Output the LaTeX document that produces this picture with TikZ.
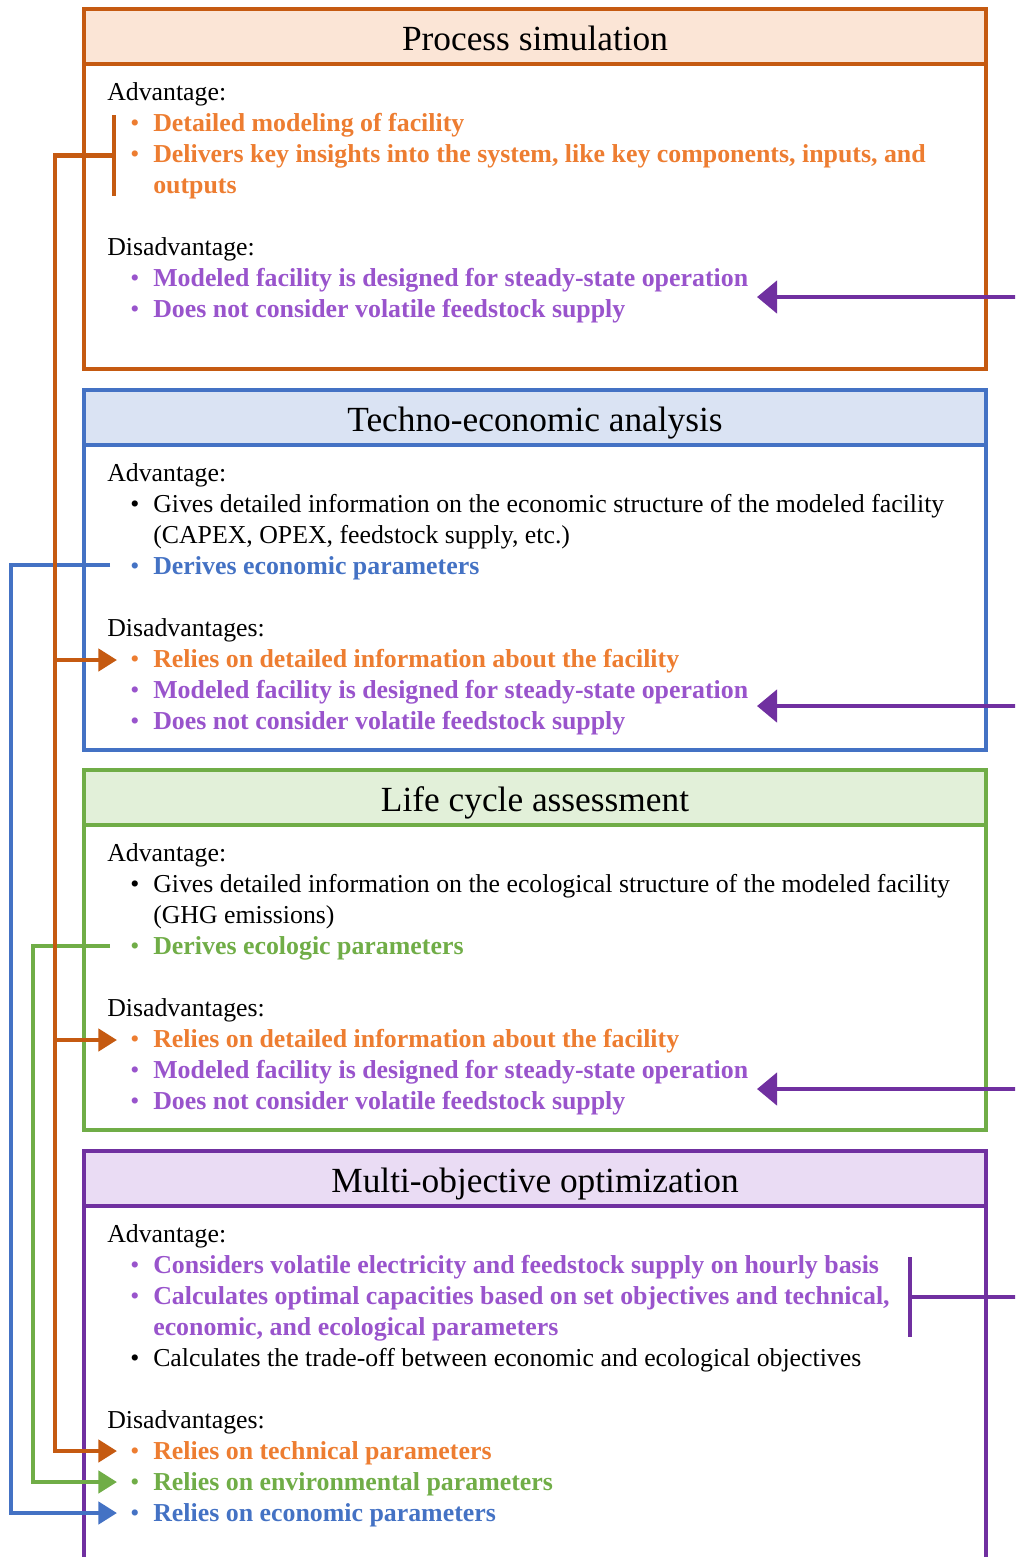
\documentclass[tikz,border=0pt]{standalone}
\usepackage{fontspec}
\setmainfont{Liberation Serif}
\usetikzlibrary{arrows.meta}

\definecolor{psline}{HTML}{C55A11}
\definecolor{pstext}{HTML}{ED7D31}
\definecolor{psfill}{HTML}{FBE5D6}
\definecolor{teline}{HTML}{4472C4}
\definecolor{tefill}{HTML}{DAE3F3}
\definecolor{lcline}{HTML}{70AD47}
\definecolor{lcfill}{HTML}{E2F0D9}
\definecolor{moline}{HTML}{7030A0}
\definecolor{motext}{HTML}{9954CC}
\definecolor{mofill}{HTML}{EADCF4}

\tikzset{
  body/.style={font=\fontsize{19.35}{23}\selectfont, inner sep=0pt, anchor=base west},
  hl/.style={body, font=\fontsize{19.4}{23}\selectfont\bfseries, text=#1},
  titletext/.style={font=\fontsize{26.5}{30}\selectfont, inner sep=0pt, anchor=base},
  frame/.style={draw=#1, line width=2.6pt},
  conn/.style={draw=#1, line width=3.4pt},
  intip/.style={-{Triangle[length=14pt,width=16.5pt]}},
  bigtip/.style={-{Triangle[length=15pt,width=24pt]}},
}

% one bullet glyph placed left of an item
\newcommand{\bul}[3]{\node[body, text=#2] (#1) at (130,#3) {•};}

\begin{document}
\begin{tikzpicture}[x=0.75pt,y=-0.75pt]
\useasboundingbox (0,0) rectangle (1015,1557);
\clip (0,0) rectangle (1015,1557);

% ---------------- Process simulation ----------------
\fill[psfill] (84,9) rectangle (986,64);
\draw[frame=psline] (84,9) rectangle (986,369);
\draw[frame=psline] (84,64) -- (986,64);
\node[titletext] (ps-title) at (535,50) {Process simulation};
\node[body] (ps-adv) at (107,100) {Advantage:};
\bul{ps-b1}{pstext}{131}
\node[hl=pstext] (ps-a1) at (153,131) {Detailed modeling of facility};
\bul{ps-b2}{pstext}{162}
\node[hl=pstext] (ps-a2) at (153,162) {Delivers key insights into the system, like key components, inputs, and};
\node[hl=pstext] (ps-a3) at (153,193) {outputs};
\node[body] (ps-dis) at (107,255) {Disadvantage:};
\bul{ps-b3}{motext}{286}
\node[hl=motext] (ps-d1) at (153,286) {Modeled facility is designed for steady-state operation};
\bul{ps-b4}{motext}{317}
\node[hl=motext] (ps-d2) at (153,317) {Does not consider volatile feedstock supply};

% ---------------- Techno-economic analysis ----------------
\fill[tefill] (84,390) rectangle (986,445);
\draw[frame=teline] (84,390) rectangle (986,750);
\draw[frame=teline] (84,445) -- (986,445);
\node[titletext] (te-title) at (535,431) {Techno-economic analysis};
\node[body] (te-adv) at (107,481) {Advantage:};
\bul{te-b1}{black}{512}
\node[body] (te-a1) at (153,512) {Gives detailed information on the economic structure of the modeled facility};
\node[body] (te-a2) at (153,543) {(CAPEX, OPEX, feedstock supply, etc.)};
\bul{te-b2}{teline}{574}
\node[hl=teline] (te-a3) at (153,574) {Derives economic parameters};
\node[body] (te-dis) at (107,636) {Disadvantages:};
\bul{te-b3}{pstext}{667}
\node[hl=pstext] (te-d1) at (153,667) {Relies on detailed information about the facility};
\bul{te-b4}{motext}{698}
\node[hl=motext] (te-d2) at (153,698) {Modeled facility is designed for steady-state operation};
\bul{te-b5}{motext}{729}
\node[hl=motext] (te-d3) at (153,729) {Does not consider volatile feedstock supply};

% ---------------- Life cycle assessment ----------------
\fill[lcfill] (84,770) rectangle (986,825);
\draw[frame=lcline] (84,770) rectangle (986,1130);
\draw[frame=lcline] (84,825) -- (986,825);
\node[titletext] (lc-title) at (535,811) {Life cycle assessment};
\node[body] (lc-adv) at (107,861) {Advantage:};
\bul{lc-b1}{black}{892}
\node[body] (lc-a1) at (153,892) {Gives detailed information on the ecological structure of the modeled facility};
\node[body] (lc-a2) at (153,923) {(GHG emissions)};
\bul{lc-b2}{lcline}{954}
\node[hl=lcline] (lc-a3) at (153,954) {Derives ecologic parameters};
\node[body] (lc-dis) at (107,1016) {Disadvantages:};
\bul{lc-b3}{pstext}{1047}
\node[hl=pstext] (lc-d1) at (153,1047) {Relies on detailed information about the facility};
\bul{lc-b4}{motext}{1078}
\node[hl=motext] (lc-d2) at (153,1078) {Modeled facility is designed for steady-state operation};
\bul{lc-b5}{motext}{1109}
\node[hl=motext] (lc-d3) at (153,1109) {Does not consider volatile feedstock supply};

% ---------------- Multi-objective optimization ----------------
\fill[mofill] (84,1151) rectangle (986,1206);
\draw[frame=moline] (84,1151) rectangle (986,1600);
\draw[frame=moline] (84,1206) -- (986,1206);
\node[titletext] (mo-title) at (535,1192) {Multi-objective optimization};
\node[body] (mo-adv) at (107,1242) {Advantage:};
\bul{mo-b1}{motext}{1273}
\node[hl=motext] (mo-a1) at (153,1273) {Considers volatile electricity and feedstock supply on hourly basis};
\bul{mo-b2}{motext}{1304}
\node[hl=motext] (mo-a2) at (153,1304) {Calculates optimal capacities based on set objectives and technical,};
\node[hl=motext] (mo-a3) at (153,1335) {economic, and ecological parameters};
\bul{mo-b3}{black}{1366}
\node[body] (mo-a4) at (153,1366) {Calculates the trade-off between economic and ecological objectives};
\node[body] (mo-dis) at (107,1428) {Disadvantages:};
\bul{mo-b4}{pstext}{1459}
\node[hl=pstext] (mo-d1) at (153,1459) {Relies on technical parameters};
\bul{mo-b5}{lcline}{1490}
\node[hl=lcline] (mo-d2) at (153,1490) {Relies on environmental parameters};
\bul{mo-b6}{teline}{1521}
\node[hl=teline] (mo-d3) at (153,1521) {Relies on economic parameters};

% ---------------- connector end points ----------------
\coordinate (te-tipL) at (117,660);
\coordinate (lc-tipL) at (117,1040);
\coordinate (mo-tipT) at (117,1451);
\coordinate (mo-tipE) at (117,1482);
\coordinate (mo-tipC) at (117,1513);
\coordinate (ps-tipR) at (757,297);
\coordinate (te-tipR) at (757,706);
\coordinate (lc-tipR) at (757,1089);
\coordinate (ps-inR) at (1030,297);
\coordinate (te-inR) at (1030,706);
\coordinate (lc-inR) at (1030,1089);
\coordinate (mo-outR) at (1030,1297);

% economic parameters feed the optimisation
\coordinate (te-from) at (110,565);
\coordinate (te-trunk) at (11,565);
\draw[conn=teline, intip] (te-from) -- (te-trunk) |- (mo-tipC);

% ecologic parameters feed the optimisation
\coordinate (lc-from) at (110,946);
\coordinate (lc-trunk) at (33,946);
\draw[conn=lcline, intip] (lc-from) -- (lc-trunk) |- (mo-tipE);

% detailed facility model feeds the downstream methods
\coordinate (ps-brtop) at (114,115);
\coordinate (ps-brbot) at (114,196);
\coordinate (ps-brmid) at (114,155.5);
\coordinate (ps-trunk) at (55,155.5);
\draw[conn=psline] (ps-brtop) -- (ps-brbot);
\draw[conn=psline, intip] (ps-brmid) -- (ps-trunk) |- (mo-tipT);
\draw[conn=psline, intip] (ps-trunk |- te-tipL) -- (te-tipL);
\draw[conn=psline, intip] (ps-trunk |- lc-tipL) -- (lc-tipL);

% the optimisation answers the steady-state limitations
\coordinate (mo-brtop) at (910,1257);
\coordinate (mo-brbot) at (910,1337);
\coordinate (mo-brmid) at (910,1297);
\draw[conn=moline] (mo-brtop) -- (mo-brbot);
\draw[conn=moline] (mo-brmid) -- (mo-outR);
\draw[conn=moline, bigtip] (ps-inR) -- (ps-tipR);
\draw[conn=moline, bigtip] (te-inR) -- (te-tipR);
\draw[conn=moline, bigtip] (lc-inR) -- (lc-tipR);
\end{tikzpicture}
\end{document}
